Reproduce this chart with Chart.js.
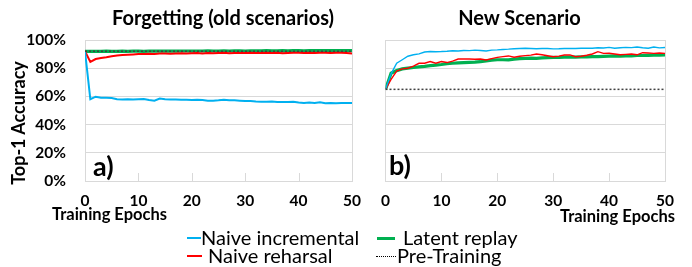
<!DOCTYPE html>
<html>
<head>
<meta charset="utf-8">
<script src="https://cdn.jsdelivr.net/npm/chart.js@4.4.1/dist/chart.umd.min.js"></script>
<style>
  html, body { margin:0; padding:0; background:#fff; }
  #wrap { position:relative; width:692px; height:267px; overflow:hidden; font-family: Lato, "DejaVu Sans", sans-serif; color:#000; }
  canvas { position:absolute; top:0; }
  .t { position:absolute; white-space:nowrap; line-height:1; }
  .b { font-weight:bold; }
  .mk { position:absolute; height:0; }
</style>
</head>
<body>
<div id="wrap">
  <canvas id="left" style="left:0px;" width="372" height="215"></canvas>
  <canvas id="right" style="left:370px;" width="322" height="215"></canvas>

  <div class="t b" style="left:0; width:446px; text-align:center; top:7px; font-size:20px;">Forgetting (old scenarios)</div>
  <div class="t b" style="left:379px; width:281px; text-align:center; top:7px; font-size:20px;">New Scenario</div>

  <div class="t b" style="left:18px; top:123px; font-size:18px; transform:translate(-50%,-50%) rotate(-90deg);">Top-1 Accuracy</div>

  <div class="t b" style="left:93px; top:152px; font-size:27px;">a)</div>
  <div class="t b" style="left:389px; top:151px; font-size:27px;">b)</div>

  <div class="t b" style="left:52px; top:206px; font-size:16.5px;">Training Epochs</div>
  <div class="t b" style="right:17px; top:208px; font-size:16.5px;">Training Epochs</div>

  <div id="legend"></div>
</div>
<script>
// ---- data ----
const epochs = [0,1,2,3,4,5,6,7,8,9,10,11,12,13,14,15,16,17,18,19,20,21,22,23,24,25,26,27,28,29,30,31,32,33,34,35,36,37,38,39,40,41,42,43,44,45,46,47,48,49,50];
const xTicks = [0,10,20,30,40,50];
const yTicks = [0,20,40,60,80,100];

// Forgetting (old scenarios)
const oldNaiveIncremental = [92.0,58.0,59.8,59.0,59.0,58.8,58.0,57.8,58.0,57.8,58.0,58.2,57.5,57.0,58.5,58.0,57.8,57.8,57.6,57.6,57.4,57.6,57.4,57.0,57.0,57.2,57.6,57.2,57.2,57.0,56.8,56.8,56.4,56.2,56.2,56.4,56.0,56.0,56.0,56.2,55.6,55.4,55.6,55.4,55.8,55.2,55.4,55.2,55.4,55.4,55.4];
const oldNaiveRehearsal = [92.0,84.5,86.5,87.2,87.8,88.5,89.0,89.3,89.6,89.8,90.0,90.0,90.2,90.1,90.4,90.5,90.3,90.5,90.6,90.4,90.6,90.8,90.5,90.7,90.6,90.8,90.9,90.6,90.8,90.7,90.8,90.9,90.7,90.8,91.0,90.7,90.9,90.6,90.8,91.0,90.9,90.7,91.0,90.8,91.0,90.9,90.8,91.0,91.0,90.8,90.5];
const oldLatentReplay = [92.0,91.9,92.0,92.0,92.1,92.0,92.0,92.1,92.0,92.1,92.1,92.0,92.1,92.2,92.1,92.1,92.2,92.1,92.2,92.2,92.1,92.2,92.2,92.3,92.2,92.2,92.3,92.2,92.3,92.3,92.2,92.3,92.3,92.3,92.4,92.3,92.3,92.4,92.3,92.4,92.4,92.3,92.4,92.4,92.5,92.4,92.4,92.5,92.4,92.5,92.5];
const oldPreTraining = 92.0;

// New Scenario
const newNaiveIncremental = [65.0,76.0,83.5,86.0,88.5,89.5,90.2,91.5,91.8,91.7,91.8,92.0,92.4,92.2,92.6,92.5,92.8,92.6,92.2,92.8,93.0,93.3,93.5,93.8,94.0,94.1,94.0,93.8,94.0,94.0,93.7,93.8,94.0,94.0,94.0,94.2,94.2,94.2,94.5,94.3,94.8,94.2,94.5,94.8,94.6,95.0,94.5,94.2,95.0,94.4,94.7];
const newNaiveRehearsal = [65.0,72.0,78.0,79.5,80.0,81.5,83.5,83.5,84.7,83.5,84.7,84.0,85.0,86.5,86.5,86.5,86.3,86.5,85.8,86.8,87.7,88.2,88.7,87.8,88.5,88.9,89.3,90.1,89.5,88.8,88.1,88.6,89.4,89.4,88.1,88.5,89.2,90.1,91.7,90.5,90.6,90.1,89.5,89.8,90.1,89.5,91.0,90.8,90.5,90.8,90.5];
const newLatentReplay = [65.0,76.4,78.3,79.5,80.0,80.5,81.0,81.3,81.8,82.2,82.6,83.2,83.5,83.8,84.0,84.2,84.3,84.6,85.2,85.7,86.0,86.0,85.9,86.4,86.8,87.0,87.2,87.0,87.3,87.5,87.7,87.6,87.8,87.8,87.9,88.0,88.0,88.2,88.2,88.4,88.6,88.7,88.5,88.7,88.8,89.0,89.0,89.1,89.2,89.3,89.4];
const newPreTraining = 65.0;

const seriesNames = ["Naive incremental", "Latent replay", "Naive reharsal", "Pre-Training"];
const colors = { blue:"#00b0f0", red:"#ff0000", green:"#00b050", pre:"#404040" };
const gridColor = "#d9d9d9";

// ---- helpers ----
const pts = arr => arr.map((v,i) => ({x: epochs[i], y: v}));
const flat = v => [{x: epochs[0], y: v}, {x: epochs[epochs.length-1], y: v}];

const framePlugin = {
  id: 'frame',
  beforeDatasetsDraw(chart) {
    const {ctx, chartArea: a, scales} = chart;
    ctx.save();
    ctx.strokeStyle = gridColor;
    ctx.lineWidth = 1;
    ctx.strokeRect(Math.round(a.left)+0.5, Math.round(a.top)+0.5, Math.round(a.right-a.left), Math.round(a.bottom-a.top));
    xTicks.forEach(v => {
      const x = Math.round(scales.x.getPixelForValue(v)) + 0.5;
      ctx.beginPath();
      ctx.moveTo(x, a.bottom);
      ctx.lineTo(x, a.bottom - 8);
      ctx.stroke();
    });
    ctx.restore();
  }
};

function makeChart(id, d, opts) {
  const tickFont = { family: "Lato", size: 15.5, weight: "bold" };
  return new Chart(document.getElementById(id), {
    type: 'line',
    data: {
      datasets: [
        { label: seriesNames[1], data: pts(d.green), borderColor: colors.green, borderWidth: 3.2, order: 4 },
        { label: seriesNames[2], data: pts(d.red), borderColor: colors.red, borderWidth: d.lw, order: 3 },
        { label: seriesNames[0], data: pts(d.blue), borderColor: colors.blue, borderWidth: d.lw, order: 2 },
        { label: seriesNames[3], data: flat(d.pre), borderColor: colors.pre, borderWidth: 1.5, borderDash: [2,2], order: 1 }
      ]
    },
    options: {
      responsive: false,
      animation: false,
      devicePixelRatio: 1,
      layout: { padding: opts.padding },
      elements: { point: { radius: 0 }, line: { tension: 0, borderCapStyle: 'butt' } },
      plugins: { legend: { display: false }, title: { display: false }, tooltip: { enabled: false } },
      scales: {
        x: {
          type: 'linear', min: 0, max: 50,
          afterBuildTicks: s => { s.ticks = xTicks.map(v => ({value: v})); },
          afterFit: s => { s.height = 30; },
          grid: { display: false, drawTicks: false },
          border: { display: false },
          ticks: { color: "#000", font: tickFont, padding: 11, maxRotation: 0 }
        },
        y: {
          min: 0, max: 100,
          afterBuildTicks: s => { s.ticks = yTicks.map(v => ({value: v})); },
          afterFit: s => { s.width = opts.yWidth; },
          grid: { color: gridColor, lineWidth: 1, drawTicks: false },
          border: { display: false },
          ticks: { display: opts.showY, color: "#000", font: tickFont, padding: 19, callback: v => v + "%" }
        }
      }
    },
    plugins: [framePlugin]
  });
}

makeChart('left', { blue: oldNaiveIncremental, red: oldNaiveRehearsal, green: oldLatentReplay, pre: oldPreTraining, lw: 2 },
  { padding: { left: 0, right: 12, top: 40, bottom: 4 }, yWidth: 85, showY: true });
makeChart('right', { blue: newNaiveIncremental, red: newNaiveRehearsal, green: newLatentReplay, pre: newPreTraining, lw: 1.4 },
  { padding: { left: 9, right: 27, top: 40, bottom: 4 }, yWidth: 0, showY: false });

// ---- legend (HTML) ----
const legendItems = [
  { name: seriesNames[0], color: colors.blue, style: 'solid', w: 2, mx: 187, mw: 14, tx: 201, y: 238 },
  { name: seriesNames[1], color: colors.green, style: 'solid', w: 3, mx: 377, mw: 18, tx: 403, y: 238 },
  { name: seriesNames[2], color: colors.red, style: 'solid', w: 2, mx: 187, mw: 15, tx: 208, y: 256 },
  { name: seriesNames[3], color: "#000", style: 'dotted', w: 1, mx: 376, mw: 20, tx: 397, y: 256 }
];
const lg = document.getElementById('legend');
legendItems.forEach(it => {
  const m = document.createElement('div');
  m.className = 'mk';
  m.style.cssText = `left:${it.mx}px; width:${it.mw}px; top:${it.y - it.w/2}px; border-top:${it.w}px ${it.style} ${it.color};`;
  lg.appendChild(m);
  const t = document.createElement('div');
  t.className = 't';
  t.style.cssText = `left:${it.tx}px; top:${it.y - 11}px; font-size:20px;`;
  t.textContent = it.name;
  lg.appendChild(t);
});
</script>
</body>
</html>
